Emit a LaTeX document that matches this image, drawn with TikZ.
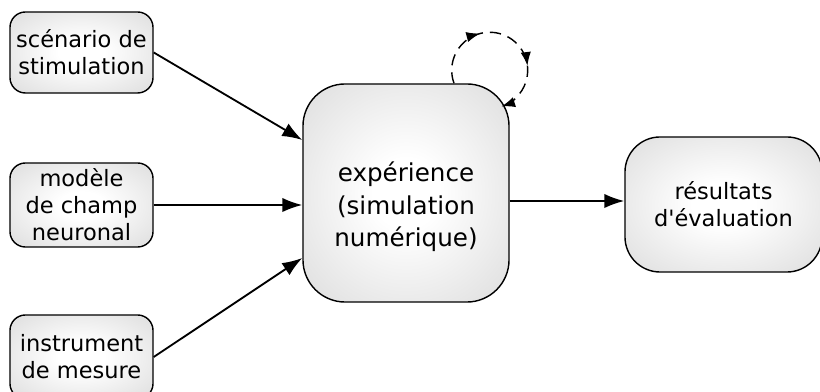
\documentclass[tikz,border=0pt]{standalone}
\usepackage{fontspec}
\setmainfont{DejaVu Sans}
\usetikzlibrary{arrows.meta,positioning,calc,decorations.markings}
\pgfdeclareradialshading{lueur}{\pgfpoint{0bp}{0bp}}{color(0bp)=(white); color(8bp)=(white);
    color(50bp)=(black!20); color(70bp)=(black!27)}

\begin{document}
\begin{tikzpicture}[
            x=0.025cm, y=0.025cm,
            every node/.style={font=\fontsize{16}{19.2}\selectfont},
            boite/.style={draw, line width=1pt, align=center, inner sep=1pt,
                    shading=lueur, rounded corners=11pt, minimum width=3.575cm, minimum height=2.1cm},
            grande/.style={boite, rounded corners=30pt, minimum width=5.15cm, minimum height=5.45cm},
            texte/.style={align=center, inner sep=1pt, font=\fontsize{17.5}{23}\selectfont},
            sig/.style={-{Latex[length=5mm, width=3.6mm]}, line width=1.3pt},
            boucle/.style={-{Latex[length=3.4mm, width=2.6mm]}, line width=1pt,
                    dash pattern=on 8pt off 5pt,
                    postaction={decorate, decoration={markings,
                        mark=at position 0.35 with {\arrow{Latex[length=3.4mm, width=2.6mm]}},
                        mark=at position 0.71 with {\arrow{Latex[length=3.4mm, width=2.6mm]}}}}}
        ]
        \useasboundingbox (0,0) rectangle (820,392);

        % ================= entrees =================
        \node[boite, minimum height=2.025cm] (scen) at (81.5,339.5) {scénario de\\stimulation};
        \node[boite] (champ) at (81.5,187) {modèle\\de champ\\neuronal};
        \node[boite] (instr) at (81.5,35) {instrument\\de mesure};

        % ================= experience =================
        \node[grande] (exp) at (406,199) {};
        \node[texte] (exptxt) at ($(exp.center)+(0,-14)$) {expérience\\(simulation\\numérique)};

        % ================= resultats =================
        \node[boite, rounded corners=25pt, minimum width=4.925cm, minimum height=3.375cm]
        (res) at (723.5,187.5) {résultats\\d\textquotesingle évaluation};

        % ================= fleches =================
        \coordinate (sortie) at ($(exp.east)+(0,-8)$);
        \draw[sig] (scen.east) -- ($(exp.west)+(0,53)$);
        \draw[sig] (champ.east) -- (champ.east -| exp.west);
        \draw[sig] (instr.east) -- ($(exp.west)+(0,-65)$);
        \draw[sig] (sortie) -- (sortie -| res.west);

        % ================= boucle =================
        \coordinate (bouclea) at ($(exp.north)+(48,0)$);
        \draw[boucle] (bouclea) arc[start angle=200, end angle=-72, radius=38];

    \end{tikzpicture}
\end{document}
